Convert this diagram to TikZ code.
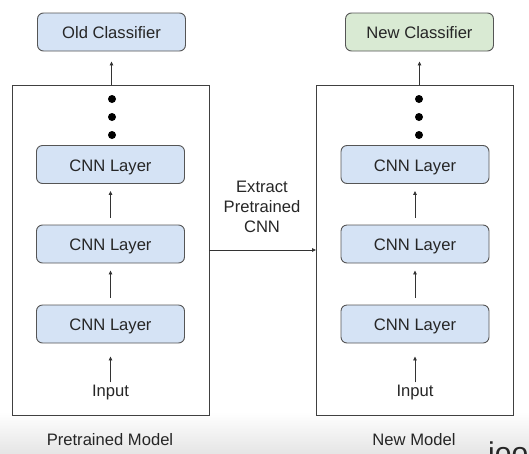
\documentclass[tikz,border=0pt]{standalone}
\usepackage{fontspec}
\setmainfont{Liberation Sans}
\usetikzlibrary{arrows.meta}
\definecolor{boxblue}{HTML}{D5E3F5}
\definecolor{boxgreen}{HTML}{D9EAD3}
\definecolor{edge}{HTML}{555555}
\tikzset{
  layerbox/.style={draw=edge, line width=0.9pt, rounded corners=6pt, minimum width=148pt, minimum height=38pt, inner sep=0pt, text height=13.5pt, text depth=0pt, font=\fontsize{16.6}{19}\selectfont, text=black!85},
  frame/.style={draw=black!75, line width=0.9pt},
  arr/.style={draw=black!80, line width=0.8pt, -{Triangle[length=4pt,width=3.5pt]}},
  lbl/.style={font=\fontsize{16.6}{20}\selectfont, text=black!85, inner sep=0pt},
  dot/.style={circle, fill=black, inner sep=0pt, minimum size=8pt}
}
\begin{document}
\begin{tikzpicture}[x=1pt,y=-1pt]
\useasboundingbox (0,0) rectangle (529,453);
\clip (0,0) rectangle (529,453);
\shade[top color=white, bottom color=black!10] (0,412) rectangle (529,453);
% frames
\node[frame, minimum width=197pt, minimum height=330pt, inner sep=0pt] (lf) at (110.5,250.5) {};
\node[frame, minimum width=197pt, minimum height=330pt, inner sep=0pt] (rf) at (415,250.5) {};
% classifiers
\node[layerbox, fill=boxblue] (oc) at (111.5,32) {Old Classifier};
\node[layerbox, fill=boxgreen] (nc) at (419.5,32) {New Classifier};
% left column
\node[layerbox, fill=boxblue] (l1) at (110.5,164.5) {CNN Layer};
\node[layerbox, fill=boxblue] (l2) at (110.5,244) {CNN Layer};
\node[layerbox, fill=boxblue] (l3) at (110.5,324) {CNN Layer};
\node[lbl] (lin) at (110.5,393) {Input};
\node[dot] (ld1) at (112,99) {};
\node[dot] (ld2) at (112,117) {};
\node[dot] (ld3) at (112,135) {};
% right column
\node[layerbox, fill=boxblue] (r1) at (415,164.5) {CNN Layer};
\node[layerbox, fill=boxblue] (r2) at (415,244) {CNN Layer};
\node[layerbox, fill=boxblue] (r3) at (415,324) {CNN Layer};
\node[lbl] (rin) at (415,393) {Input};
\node[dot] (rd1) at (419,99) {};
\node[dot] (rd2) at (419,117) {};
\node[dot] (rd3) at (419,135) {};
% arrows left
\draw[arr] (lf.north -| oc) -- ([yshift=-10pt]oc.south);
\draw[arr] ([yshift=7pt]l2.north) -- ([yshift=-7pt]l1.south);
\draw[arr] ([yshift=7pt]l3.north) -- ([yshift=-7pt]l2.south);
\draw[arr] ([yshift=3pt]lin.north) -- ([yshift=-13pt]l3.south);
% arrows right
\draw[arr] (rf.north -| nc) -- ([yshift=-10pt]nc.south);
\draw[arr] ([yshift=7pt]r2.north) -- ([yshift=-7pt]r1.south);
\draw[arr] ([yshift=7pt]r3.north) -- ([yshift=-7pt]r2.south);
\draw[arr] ([yshift=3pt]rin.north) -- ([yshift=-13pt]r3.south);
% extract
\node[lbl, align=center] (ex) at (262,207) {Extract\\Pretrained\\CNN};
\coordinate (ea) at (lf.east |- 0,250);
\draw[arr] (ea) -- (rf.west |- ea);
% captions
\node[lbl] (cap1) at (110,440) {Pretrained Model};
\node[lbl] (cap2) at (414,440) {New Model};
\node[font=\fontsize{30}{30}\selectfont, text=black!85, inner sep=0pt, anchor=west] (wm) at (488,456) {joo};
\end{tikzpicture}
\end{document}
